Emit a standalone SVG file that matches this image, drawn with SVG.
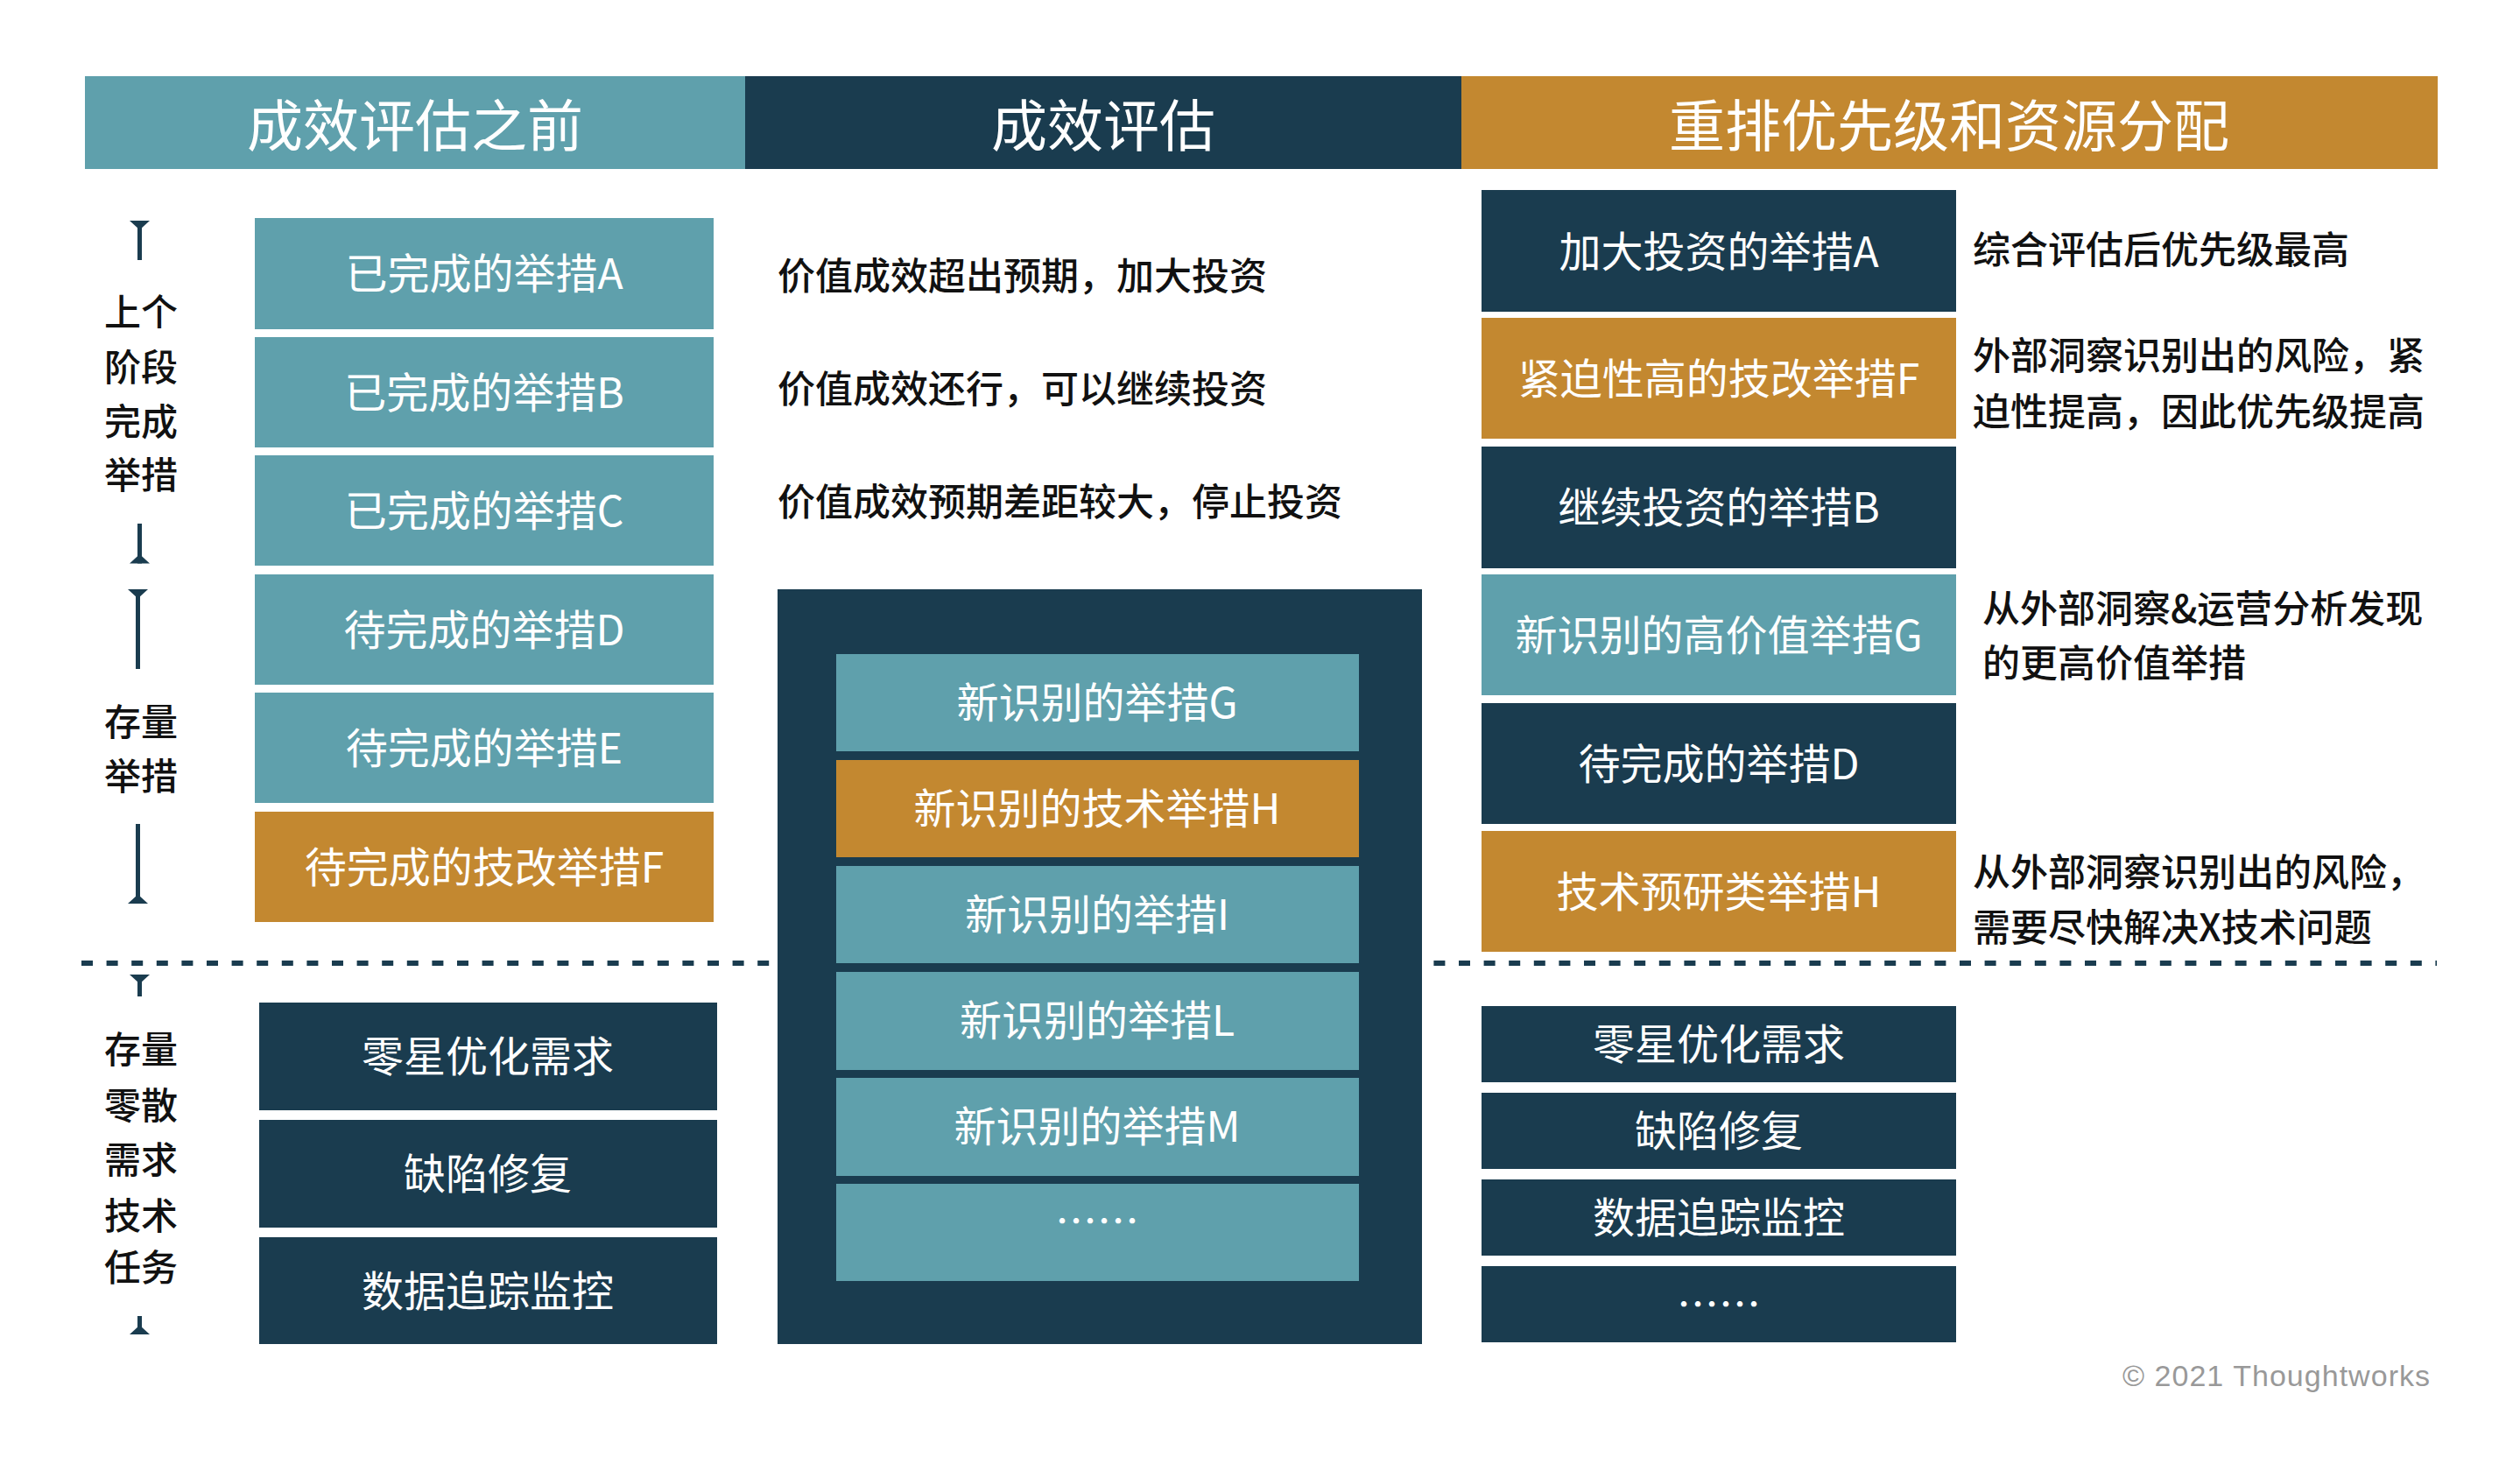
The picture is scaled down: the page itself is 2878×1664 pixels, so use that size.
<svg xmlns="http://www.w3.org/2000/svg" width="2878" height="1664" viewBox="0 0 2878 1664">
<defs>
<style>
.teal{fill:#5FA0AC}
.dark{fill:#1A3C4F}
.orange{fill:#C38830}
text{font-family:"Noto Sans CJK SC","Liberation Sans",sans-serif}
.hd{font-size:64px;fill:#fff;text-anchor:middle}
.bx{font-size:48px;fill:#fff;text-anchor:middle}
.an{font-size:43px;fill:#111;font-weight:500}
.lb{font-size:42px;fill:#111;text-anchor:middle;font-weight:500}
.cr{font-size:34px;fill:#999;text-anchor:end;font-family:"Liberation Sans","Noto Sans",sans-serif}
.br{stroke:#1A3C4F;stroke-width:5;fill:none}
</style>
<marker id="cap" markerUnits="userSpaceOnUse" viewBox="-11 -12 12 24" refX="0" refY="0" markerWidth="12" markerHeight="24" orient="auto-start-reverse">
<path d="M0,-11.5 L0,11.5 L-10.5,0 Z" fill="#1A3C4F"/>
</marker>
</defs>
<rect width="2878" height="1664" fill="#fff"/>

<g id="headers">
<g id="header-before"><rect class="teal" x="97" y="87" width="754" height="106"/><text class="hd" x="474" y="167">成效评估之前</text></g>
<g id="header-eval"><rect class="dark" x="851" y="87" width="818" height="106"/><text class="hd" x="1260" y="167">成效评估</text></g>
<g id="header-reprio"><rect class="orange" x="1669" y="87" width="1115" height="106"/><text class="hd" x="2226" y="167">重排优先级和资源分配</text></g>
</g>

<g id="connectors">
<line id="dash-divider" x1="93" y1="1100" x2="2783" y2="1100" stroke="#1A3C4F" stroke-width="6" stroke-dasharray="13 15.6"/>
<line class="br" x1="159.5" y1="252" x2="159.5" y2="297" marker-start="url(#cap)"/>
<line class="br" x1="159.5" y1="598" x2="159.5" y2="643.5" marker-end="url(#cap)"/>
<line class="br" x1="157.5" y1="673" x2="157.5" y2="764" marker-start="url(#cap)"/>
<line class="br" x1="157.5" y1="941" x2="157.5" y2="1032" marker-end="url(#cap)"/>
<line class="br" x1="159.5" y1="1113" x2="159.5" y2="1138" marker-start="url(#cap)"/>
<line class="br" x1="159.5" y1="1503" x2="159.5" y2="1524" marker-end="url(#cap)"/>
</g>

<g id="left-labels">
<g id="label-prev"><text class="lb" x="161" y="372">上个</text><text class="lb" x="161" y="435">阶段</text><text class="lb" x="161" y="497">完成</text><text class="lb" x="161" y="558">举措</text></g>
<g id="label-stock"><text class="lb" x="161" y="840">存量</text><text class="lb" x="161" y="902">举措</text></g>
<g id="label-misc"><text class="lb" x="161" y="1214">存量</text><text class="lb" x="161" y="1278">零散</text><text class="lb" x="161" y="1340">需求</text><text class="lb" x="161" y="1404">技术</text><text class="lb" x="161" y="1463">任务</text></g>
</g>

<g id="left-column">
<g id="l-a"><rect class="teal" x="291" y="249" width="524" height="127"/><text class="bx" x="553" y="330">已完成的举措A</text></g>
<g id="l-b"><rect class="teal" x="291" y="385" width="524" height="126"/><text class="bx" x="553" y="466">已完成的举措B</text></g>
<g id="l-c"><rect class="teal" x="291" y="520" width="524" height="126"/><text class="bx" x="553" y="601">已完成的举措C</text></g>
<g id="l-d"><rect class="teal" x="291" y="656" width="524" height="126"/><text class="bx" x="553" y="737">待完成的举措D</text></g>
<g id="l-e"><rect class="teal" x="291" y="791" width="524" height="126"/><text class="bx" x="553" y="872">待完成的举措E</text></g>
<g id="l-f"><rect class="orange" x="291" y="927" width="524" height="126"/><text class="bx" x="553" y="1008">待完成的技改举措F</text></g>
<g id="l-misc1"><rect class="dark" x="296" y="1145" width="523" height="123"/><text class="bx" x="557" y="1224">零星优化需求</text></g>
<g id="l-misc2"><rect class="dark" x="296" y="1279" width="523" height="123"/><text class="bx" x="557" y="1358">缺陷修复</text></g>
<g id="l-misc3"><rect class="dark" x="296" y="1413" width="523" height="122"/><text class="bx" x="557" y="1492">数据追踪监控</text></g>
</g>

<g id="middle-column">
<g id="ann-1"><text class="an" x="888" y="331">价值成效超出预期，加大投资</text></g>
<g id="ann-2"><text class="an" x="888" y="460">价值成效还行，可以继续投资</text></g>
<g id="ann-3"><text class="an" x="888" y="589">价值成效预期差距较大，停止投资</text></g>
<g id="new-pool">
<rect class="dark" x="888" y="673" width="736" height="862"/>
<g id="m-g"><rect class="teal" x="955" y="747" width="597" height="111"/><text class="bx" x="1253" y="820">新识别的举措G</text></g>
<g id="m-h"><rect class="orange" x="955" y="868" width="597" height="111"/><text class="bx" x="1253" y="941">新识别的技术举措H</text></g>
<g id="m-i"><rect class="teal" x="955" y="989" width="597" height="111"/><text class="bx" x="1253" y="1062">新识别的举措I</text></g>
<g id="m-l"><rect class="teal" x="955" y="1110" width="597" height="112"/><text class="bx" x="1253" y="1183">新识别的举措L</text></g>
<g id="m-m"><rect class="teal" x="955" y="1231" width="597" height="112"/><text class="bx" x="1253" y="1304">新识别的举措M</text></g>
<g id="m-more"><rect class="teal" x="955" y="1352" width="597" height="111"/><text class="bx" x="1253" y="1412">……</text></g>
</g>
</g>

<g id="right-column">
<g id="r-a"><rect class="dark" x="1692" y="217" width="542" height="139"/><text class="bx" x="1963" y="305">加大投资的举措A</text></g>
<g id="r-f"><rect class="orange" x="1692" y="363" width="542" height="138"/><text class="bx" x="1963" y="450">紧迫性高的技改举措F</text></g>
<g id="r-b"><rect class="dark" x="1692" y="510" width="542" height="139"/><text class="bx" x="1963" y="597">继续投资的举措B</text></g>
<g id="r-g"><rect class="teal" x="1692" y="656" width="542" height="138"/><text class="bx" x="1963" y="743">新识别的高价值举措G</text></g>
<g id="r-d"><rect class="dark" x="1692" y="803" width="542" height="138"/><text class="bx" x="1963" y="890">待完成的举措D</text></g>
<g id="r-h"><rect class="orange" x="1692" y="949" width="542" height="138"/><text class="bx" x="1963" y="1036">技术预研类举措H</text></g>
<g id="r-misc1"><rect class="dark" x="1692" y="1149" width="542" height="87"/><text class="bx" x="1963" y="1210">零星优化需求</text></g>
<g id="r-misc2"><rect class="dark" x="1692" y="1248" width="542" height="87"/><text class="bx" x="1963" y="1309">缺陷修复</text></g>
<g id="r-misc3"><rect class="dark" x="1692" y="1347" width="542" height="87"/><text class="bx" x="1963" y="1408">数据追踪监控</text></g>
<g id="r-more"><rect class="dark" x="1692" y="1446" width="542" height="87"/><text class="bx" x="1963" y="1507">……</text></g>
<g id="r-ann-a"><text class="an" x="2253" y="301">综合评估后优先级最高</text></g>
<g id="r-ann-f"><text class="an" x="2253" y="422">外部洞察识别出的风险，紧</text><text class="an" x="2253" y="486">迫性提高，因此优先级提高</text></g>
<g id="r-ann-g"><text class="an" x="2264" y="711">从外部洞察&amp;运营分析发现</text><text class="an" x="2264" y="773">的更高价值举措</text></g>
<g id="r-ann-h"><text class="an" x="2253" y="1012">从外部洞察识别出的风险，</text><text class="an" x="2253" y="1075">需要尽快解决X技术问题</text></g>
</g>

<text class="cr" x="2775" y="1583" textLength="351" lengthAdjust="spacing">© 2021 Thoughtworks</text>
</svg>
